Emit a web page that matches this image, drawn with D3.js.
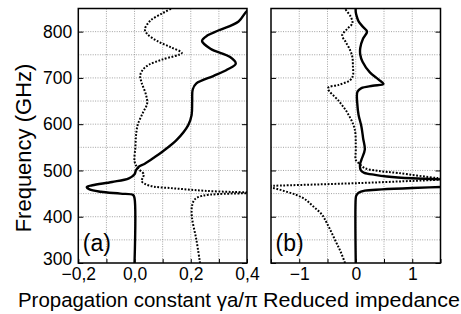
<!DOCTYPE html>
<html>
<head>
<meta charset="utf-8">
<script src="https://cdn.jsdelivr.net/npm/d3@7"></script>
<style>
  body { margin: 0; background: #fff; }
  text { font-family: "Liberation Sans", Arial, Helvetica, sans-serif; fill: #000; }
</style>
</head>
<body>
<div id="chart"></div>
<script>
// data: [value, frequency GHz]
const freqTicks = [300, 400, 500, 600, 700, 800];
const aTicks = [-0.2, 0.0, 0.2, 0.4];
const bTicks = [-1, 0, 1];

const aSolid = [[0,300],[0,440],[-0.005,447],[-0.05,450],[-0.12,454],[-0.16,459],[-0.17,464],[-0.15,468],
  [-0.08,475],[-0.02,483],[0.0,492],[0.005,500],[0.015,508],[0.035,514],[0.07,528],[0.10,541],[0.15,566],
  [0.191,598],[0.203,620],[0.205,650],[0.207,675],[0.22,688],[0.28,704],[0.33,718],[0.36,731],[0.34,745],
  [0.27,763],[0.24,780],[0.26,792],[0.30,803],[0.37,822],[0.40,845],[0.42,852]];
const aDotLow = [[0.233,300],[0.22,350],[0.204,400],[0.205,425],[0.215,438],[0.24,445],[0.30,449],[0.45,451]];
const aDotHigh = [[0.45,452.5],[0.35,453.5],[0.25,456],[0.186,459],[0.126,462],[0.07,465],[0.04,470],
  [0.025,477],[0.03,485],[0.033,492],[0.02,500],[0.008,508],[0.0,520],[0.003,550],[0.006,580],[0.012,600],
  [0.03,625],[0.045,645],[0.04,665],[0.025,690],[0.02,705],[0.03,718],[0.05,728],[0.10,740],[0.168,754],
  [0.13,766],[0.08,780],[0.045,795],[0.037,805],[0.055,823],[0.10,840],[0.132,850],[0.14,853]];

const bSolidLow = [[0,300],[0,440],[0.01,446],[0.05,452],[0.16,456.5],[0.46,459],[1.0,462],[1.7,465]];
const bSolidHigh = [[1.7,480],[1.0,483],[0.55,487],[0.34,490.5],[0.15,495],[0.09,500],[0.075,512],[0.1,523],
  [0.16,545],[0.13,570],[0.1,595],[0.05,620],[0.03,640],[0.03,670],[0.1,678],[0.3,683],[0.49,687],[0.4,697],
  [0.25,712],[0.12,735],[0.08,750],[0.08,765],[0.13,785],[0.2,800],[0.13,810],[0.05,822],[0.02,832],[0,842],[0,853]];
const bDotLow = [[-0.19,300],[-0.27,325],[-0.34,343],[-0.51,386],[-0.6,405],[-0.75,422],[-0.9,438],
  [-1.05,447],[-1.25,455],[-1.46,462],[-1.7,466]];
const bDotCross = [[-1.7,466.5],[-1.46,467],[0.05,472.7],[1.5,480],[1.7,481]];
const bDotHigh = [[1.7,482.5],[1.45,483.6],[0.75,494.5],[0.4,499],[0.16,505],[0.05,516],[0.0,523],[0.0,545],
  [-0.02,590],[-0.15,625],[-0.3,650],[-0.49,678],[-0.3,685],[-0.1,695],[-0.05,705],[-0.05,725],[-0.06,745],
  [-0.1,760],[-0.18,778],[-0.24,792],[-0.15,806],[-0.06,818],[-0.08,830],[-0.19,850],[-0.2,853]];

const W = 461, H = 314;
const plotTop = 8.5, plotBottom = 263;
const tickFont = 17.5;

const svg = d3.select("#chart").append("svg")
  .attr("width", W).attr("height", H);

const comma = d3.formatLocale({decimal: ",", thousands: ".", grouping: [3], currency: ["", ""]});

const y = d3.scaleLinear().domain([300, 850]).range([plotBottom, plotTop]);

function panel(id, left, right, domain, gridStep, labels, fmt, lines, tag, showY) {
  const x = d3.scaleLinear().domain(domain).range([left, right]);
  const g = svg.append("g");

  g.append("clipPath").attr("id", "clip" + id)
    .append("rect").attr("x", left).attr("y", plotTop).attr("width", right - left).attr("height", plotBottom - plotTop);

  // grid
  const gx = d3.range(domain[0] + gridStep, domain[1] - gridStep / 2, gridStep);
  const gy = d3.range(350, 850, 50);
  g.selectAll(".vg").data(gx).enter().append("line")
    .attr("x1", d => x(d)).attr("x2", d => x(d)).attr("y1", plotTop).attr("y2", plotBottom)
    .attr("stroke", "#8a8a8a").attr("stroke-width", 0.8).attr("stroke-dasharray", "1,1.4");
  g.selectAll(".hg").data(gy).enter().append("line")
    .attr("x1", left).attr("x2", right).attr("y1", d => y(d)).attr("y2", d => y(d))
    .attr("stroke", "#8a8a8a").attr("stroke-width", 0.8).attr("stroke-dasharray", "1,1.4");

  // curves
  const line = d3.line().x(d => x(d[0])).y(d => y(d[1])).curve(d3.curveCatmullRom.alpha(0.5));
  const lg = g.append("g").attr("clip-path", "url(#clip" + id + ")");
  lines.forEach(l => {
    lg.append("path").attr("d", line(l.data)).attr("fill", "none").attr("stroke", "#000")
      .attr("stroke-width", l.dot ? 2 : 2.4)
      .attr("stroke-dasharray", l.dot ? "1.8,1.6" : null);
  });

  // axes
  const ax = g.append("g").attr("transform", "translate(0," + plotBottom + ")")
    .call(d3.axisBottom(x).tickValues(d3.range(domain[0], domain[1] + gridStep / 2, gridStep))
      .tickSize(-4).tickPadding(5)
      .tickFormat(d => labels.some(v => Math.abs(v - d) < 1e-6) ? fmt(d) : ""));
  ax.select(".domain").remove();
  ax.selectAll("text").attr("font-size", tickFont).style("font-family", null);

  const ay = g.append("g").attr("transform", "translate(" + left + ",0)")
    .call(d3.axisLeft(y).tickValues(freqTicks).tickSize(-5).tickPadding(6)
      .tickFormat(showY ? d3.format("d") : ""));
  ay.select(".domain").remove();
  ay.selectAll("text").attr("font-size", tickFont).style("font-family", null);
  // bottom label sits a little higher, clear of the x labels
  ay.selectAll("text").filter(d => d === 300).attr("y", -4.5);

  const ay2 = g.append("g").attr("transform", "translate(" + right + ",0)")
    .call(d3.axisRight(y).tickValues(freqTicks).tickSize(-5).tickFormat(""));
  ay2.select(".domain").remove();

  g.append("rect").attr("x", left).attr("y", plotTop).attr("width", right - left).attr("height", plotBottom - plotTop)
    .attr("fill", "none").attr("stroke", "#000").attr("stroke-width", 1.5);

  g.append("text").attr("x", left + 4.5).attr("y", 250.5).attr("font-size", 23).text(tag);
}

panel("a", 78.3, 247, [-0.2, 0.4], 0.1, aTicks, comma.format(".1f"),
  [{data: aSolid}, {data: aDotLow, dot: true}, {data: aDotHigh, dot: true}], "(a)", true);
panel("b", 271, 440.5, [-1.5, 1.5], 0.5, bTicks, d3.format("d"),
  [{data: bSolidLow}, {data: bSolidHigh}, {data: bDotLow, dot: true}, {data: bDotCross, dot: true},
   {data: bDotHigh, dot: true}], "(b)", false);

// axis titles
svg.append("text").attr("x", 18).attr("y", 306.5).attr("font-size", 20.5)
  .attr("textLength", 240).attr("lengthAdjust", "spacingAndGlyphs").text("Propagation constant γa/π");
svg.append("text").attr("x", 263).attr("y", 306.5).attr("font-size", 20.5)
  .attr("textLength", 197).attr("lengthAdjust", "spacingAndGlyphs").text("Reduced impedance");
svg.append("text").attr("transform", "translate(31,148) rotate(-90)").attr("text-anchor", "middle")
  .attr("font-size", 22).text("Frequency (GHz)");
</script>
</body>
</html>
